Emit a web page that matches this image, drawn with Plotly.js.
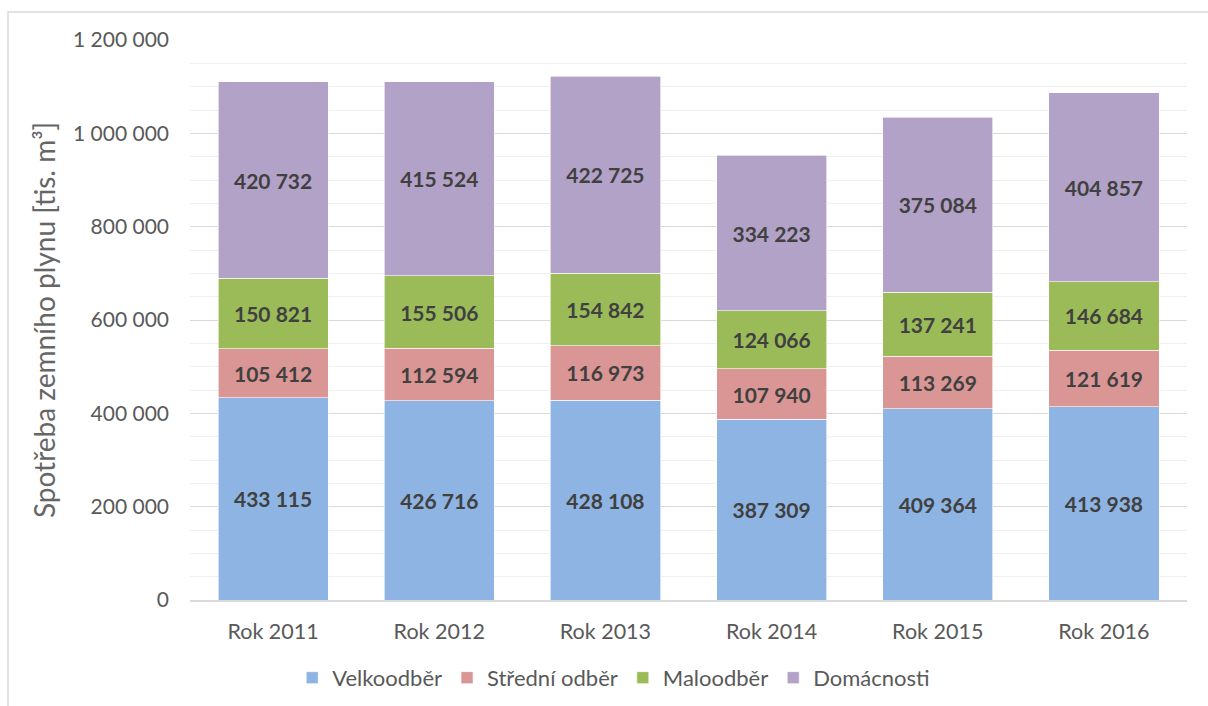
<!DOCTYPE html>
<html>
<head>
<meta charset="utf-8">
<script src="https://cdn.plot.ly/plotly-3.0.1.min.js"></script>
<style>
html,body{margin:0;padding:0;background:#fff;}
#chart{width:1208px;height:706px;}
</style>
</head>
<body>
<div id="chart"></div>
<script>
const categories = ["Rok 2011", "Rok 2012", "Rok 2013", "Rok 2014", "Rok 2015", "Rok 2016"];
const velkoodber = [433115, 426716, 428108, 387309, 409364, 413938];
const stredniOdber = [105412, 112594, 116973, 107940, 113269, 121619];
const maloodber = [150821, 155506, 154842, 124066, 137241, 146684];
const domacnosti = [420732, 415524, 422725, 334223, 375084, 404857];
const seriesNames = ["Velkoodběr", "Střední odběr", "Maloodběr", "Domácnosti"];
const seriesColors = ["#8EB4E3", "#D99694", "#9BBB59", "#B3A2C7"];
const yTitle = "Spotřeba zemního plynu [tis. m³]";

const FONT = "Lato, 'Open Sans', sans-serif";
const values = [velkoodber, stredniOdber, maloodber, domacnosti];

const traces = values.map((vals, i) => ({
  type: "bar",
  name: seriesNames[i],
  x: categories,
  y: vals,
  marker: {color: seriesColors[i], line: {color: "#ffffff", width: 0.6}},
  texttemplate: "%{y:,d}",
  textposition: "inside",
  insidetextanchor: "middle",
  constraintext: "none",
  textangle: 0,
  textfont: {family: FONT, size: 21, color: "#404040", weight: 700},
  hoverinfo: "x+y+name"
}));

const L = 190, T = 40, W = 997, H = 560;
const layout = {
  width: 1208,
  height: 706,
  barmode: "stack",
  bargap: 0.337,
  separators: ", ",
  paper_bgcolor: "#ffffff",
  plot_bgcolor: "#ffffff",
  font: {family: FONT, size: 21, color: "#595959"},
  margin: {l: L, r: 1208 - L - W, t: T, b: 706 - T - H, autoexpand: false},
  showlegend: true,
  legend: {
    orientation: "h",
    x: 0.425, xanchor: "center",
    y: -0.139, yanchor: "middle",
    font: {family: FONT, size: 22, color: "#595959"},
    traceorder: "normal",
    itemwidth: 30
  },
  xaxis: {
    type: "category",
    showline: true,
    linecolor: "#d9d9d9",
    linewidth: 2,
    ticks: "",
    showgrid: false,
    zeroline: false,
    ticklabelstandoff: 11,
    tickfont: {family: FONT, size: 21.5, color: "#595959"},
    fixedrange: true
  },
  yaxis: {
    range: [0, 1200000],
    dtick: 200000,
    tick0: 0,
    tickformat: ",d",
    showgrid: true,
    gridcolor: "#d9d9d9",
    gridwidth: 1,
    zeroline: false,
    showline: false,
    ticks: "",
    ticklabelstandoff: 20,
    tickfont: {family: FONT, size: 21, color: "#595959"},
    minor: {dtick: 50000, showgrid: true, gridcolor: "#efefef", gridwidth: 1, ticks: ""},
    title: {text: yTitle, font: {family: FONT, size: 28, color: "#666666"}, standoff: 9},
    automargin: false,
    fixedrange: true
  },
  shapes: [{
    type: "rect", xref: "paper", yref: "paper",
    x0: (8 - L) / W, x1: (1212 - L) / W,
    y0: (T + H - 712) / H, y1: 1 + (T - 12) / H,
    line: {color: "#d9d9d9", width: 1.5},
    fillcolor: "rgba(0,0,0,0)",
    layer: "below"
  }]
};

Plotly.newPlot("chart", traces, layout, {displayModeBar: false, staticPlot: true});
</script>
</body>
</html>
